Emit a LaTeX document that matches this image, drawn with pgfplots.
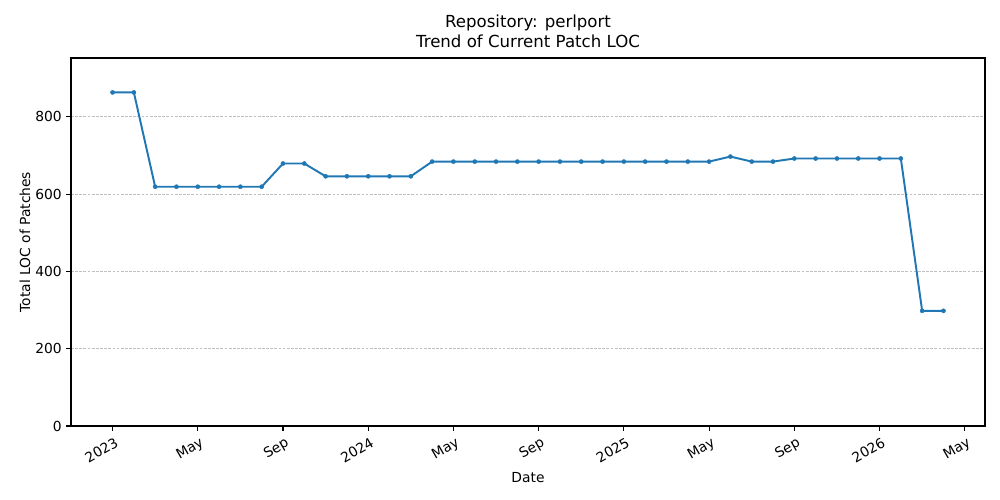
\documentclass[border=0pt]{standalone}
\usepackage{fontspec}
\setmainfont{DejaVu Sans}
\usepackage{pgfplots}
\pgfplotsset{compat=1.18}
\definecolor{mplblue}{HTML}{1F77B4}

\begin{document}
\begin{tikzpicture}
\useasboundingbox (0,0) rectangle (10in,5in);
\begin{axis}[
    at={(0.71in,0.74in)}, anchor=south west,
    scale only axis,
    width=9.14in, height=3.68in,
    xmin=-1.95, xmax=40.95,
    ymin=0, ymax=952,
    xtick={0,4,8,12,16,20,24,28,32,36,40},
    xticklabels={2023,May,Sep,2024,May,Sep,2025,May,Sep,2026,May},
    ytick={0,200,400,600,800},
    tick pos=left,
    tick align=outside,
    major tick length=3.5pt,
    every tick/.style={black, line width=0.8pt},
    axis line style={line width=0.8pt},
    ymajorgrids=true,
    grid style={dash pattern=on 2pt off 1pt, gray!50, line width=0.45pt},
    font=\fontsize{10}{12}\selectfont,
    /pgf/number format/assume math mode=true,
    /pgf/number format/1000 sep={},
    xticklabel style={rotate=30, anchor=north east, inner sep=1pt, yshift=-3pt},
    yticklabel style={inner sep=2pt, xshift=-1pt},
    xlabel={Date},
    ylabel={Total LOC of Patches},
    xlabel style={at={(0.5,0)}, yshift=-30pt},
    ylabel style={xshift=0pt, yshift=-2pt},
    title={Repository: perlport\\Trend of Current Patch LOC},
    title style={align=center, font=\fontsize{12}{14}\selectfont, yshift=-2pt},
]
\addplot[color=mplblue, line width=1.4pt, mark=*, mark size=1.5pt,
    mark options={solid, line width=0.3pt}]
    coordinates {
    (0,863) (1,863) (2,619) (3,619) (4,619) (5,619) (6,619) (7,619)
    (8,679) (9,679) (10,646) (11,646) (12,646) (13,646) (14,646)
    (15,684) (16,684) (17,684) (18,684) (19,684) (20,684) (21,684)
    (22,684) (23,684) (24,684) (25,684) (26,684) (27,684) (28,684)
    (29,697) (30,684) (31,684) (32,692) (33,692) (34,692) (35,692)
    (36,692) (37,692) (38,298) (39,298)
    };
\end{axis}
\end{tikzpicture}
\end{document}
